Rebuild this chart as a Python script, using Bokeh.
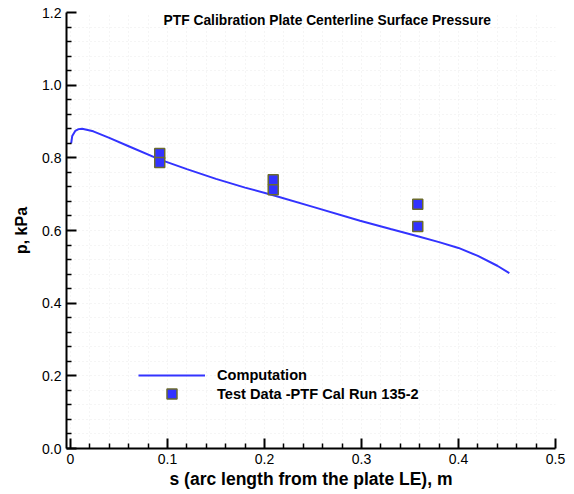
from bokeh.plotting import figure
from bokeh.models import (Range1d, Legend, LegendItem, Label, FixedTicker,
                          NumeralTickFormatter)
from bokeh.embed import file_html
from bokeh.resources import INLINE

# ---- data ----
s_comp = [0.0007, 0.0018, 0.0049, 0.0083, 0.012, 0.0235, 0.04, 0.06, 0.0923,
          0.12, 0.15, 0.18, 0.209, 0.25, 0.2985, 0.33, 0.358, 0.38, 0.40,
          0.42, 0.44, 0.4524]
p_comp = [0.840, 0.860, 0.874, 0.879, 0.880, 0.873, 0.855, 0.832, 0.795,
          0.769, 0.742, 0.718, 0.697, 0.665, 0.627, 0.604, 0.584, 0.568,
          0.552, 0.530, 0.503, 0.4826]

s_test = [0.092, 0.092, 0.209, 0.209, 0.358, 0.358]
p_test = [0.812, 0.787, 0.740, 0.712, 0.672, 0.611]

x_ticks = [0.0, 0.1, 0.2, 0.3, 0.4, 0.5]
x_minor = [0.02, 0.04, 0.06, 0.08, 0.12, 0.14, 0.16, 0.18, 0.22, 0.24, 0.26,
           0.28, 0.32, 0.34, 0.36, 0.38, 0.42, 0.44, 0.46, 0.48]
y_ticks = [0.0, 0.2, 0.4, 0.6, 0.8, 1.0, 1.2]
y_minor = [0.04, 0.08, 0.12, 0.16, 0.24, 0.28, 0.32, 0.36, 0.44, 0.48, 0.52,
           0.56, 0.64, 0.68, 0.72, 0.76, 0.84, 0.88, 0.92, 0.96, 1.04, 1.08,
           1.12, 1.16]

title_text = "PTF Calibration Plate Centerline Surface Pressure"
x_label = "s (arc length from the plate LE), m"
y_label = "p, kPa"
series_names = ["Computation", "Test Data -PTF Cal Run 135-2"]

FONT = "Liberation Sans"
BLUE = "#3333ff"

p = figure(width=574, height=494, x_range=Range1d(-0.0041, 0.5),
           y_range=Range1d(0.0, 1.2), output_backend="svg",
           toolbar_location=None, min_border_left=66, min_border_right=19,
           min_border_top=12, min_border_bottom=46)
p.outline_line_color = None
p.background_fill_color = "white"

p.xaxis.ticker = FixedTicker(ticks=x_ticks, minor_ticks=x_minor)
p.yaxis.ticker = FixedTicker(ticks=y_ticks, minor_ticks=y_minor)
p.xaxis.formatter = NumeralTickFormatter(format="0.[0]")
p.yaxis.formatter = NumeralTickFormatter(format="0.0")

for ax in (p.xaxis[0], p.yaxis[0]):
    ax.axis_line_width = 2
    ax.axis_line_color = "black"
    ax.major_tick_in = 10
    ax.major_tick_out = 0
    ax.minor_tick_in = 5
    ax.minor_tick_out = 0
    ax.major_tick_line_width = 2
    ax.minor_tick_line_width = 1.5
    ax.major_tick_line_color = "black"
    ax.minor_tick_line_color = "black"
    ax.major_label_text_font = FONT
    ax.major_label_text_font_size = "14px"
    ax.major_label_text_color = "black"
    ax.major_label_standoff = 5
    ax.axis_label_text_font = FONT
    ax.axis_label_text_font_style = "bold"
    ax.axis_label_text_color = "black"

p.xaxis.axis_label = x_label
p.yaxis.axis_label = y_label
p.xaxis.axis_label_standoff = 2
p.yaxis.axis_label_standoff = 9
p.xaxis.axis_label_text_font_size = "17.5px"
p.yaxis.axis_label_text_font_size = "16px"

p.xgrid.ticker = FixedTicker(ticks=x_ticks, minor_ticks=x_minor)
p.ygrid.ticker = FixedTicker(ticks=y_ticks, minor_ticks=y_minor)
for g in (p.xgrid[0], p.ygrid[0]):
    g.grid_line_color = "#ebebeb"
    g.grid_line_dash = "1 3"
    g.minor_grid_line_color = "#ebebeb"
    g.minor_grid_line_dash = "1 3"

r_line = p.line(s_comp, p_comp, line_color=BLUE, line_width=2)
r_pts = p.scatter(s_test, p_test, marker="square", size=10,
                  fill_color=BLUE, line_color="#6b6b2e", line_width=1.5)

leg_style = dict(glyph_width=67, label_standoff=12, spacing=0, padding=0,
                 margin=0, border_line_color=None, background_fill_alpha=0,
                 label_text_font=FONT, label_text_font_style="bold",
                 label_text_font_size="14.6px", label_text_color="black")
legend1 = Legend(items=[LegendItem(label=series_names[0], renderers=[r_line])],
                 location=(72, 64), glyph_height=18, label_height=18,
                 **leg_style)
legend2 = Legend(items=[LegendItem(label=series_names[1], renderers=[r_pts])],
                 location=(72, 42), glyph_height=25, label_height=25,
                 **leg_style)
p.add_layout(legend1)
p.add_layout(legend2)

p.add_layout(Label(x=0.2647, y=1.178, text=title_text, text_align="center",
                   text_baseline="middle", text_font=FONT,
                   text_font_style="bold", text_font_size="13.8px",
                   text_color="black"))

open("out.html", "w").write(file_html(p, INLINE))
